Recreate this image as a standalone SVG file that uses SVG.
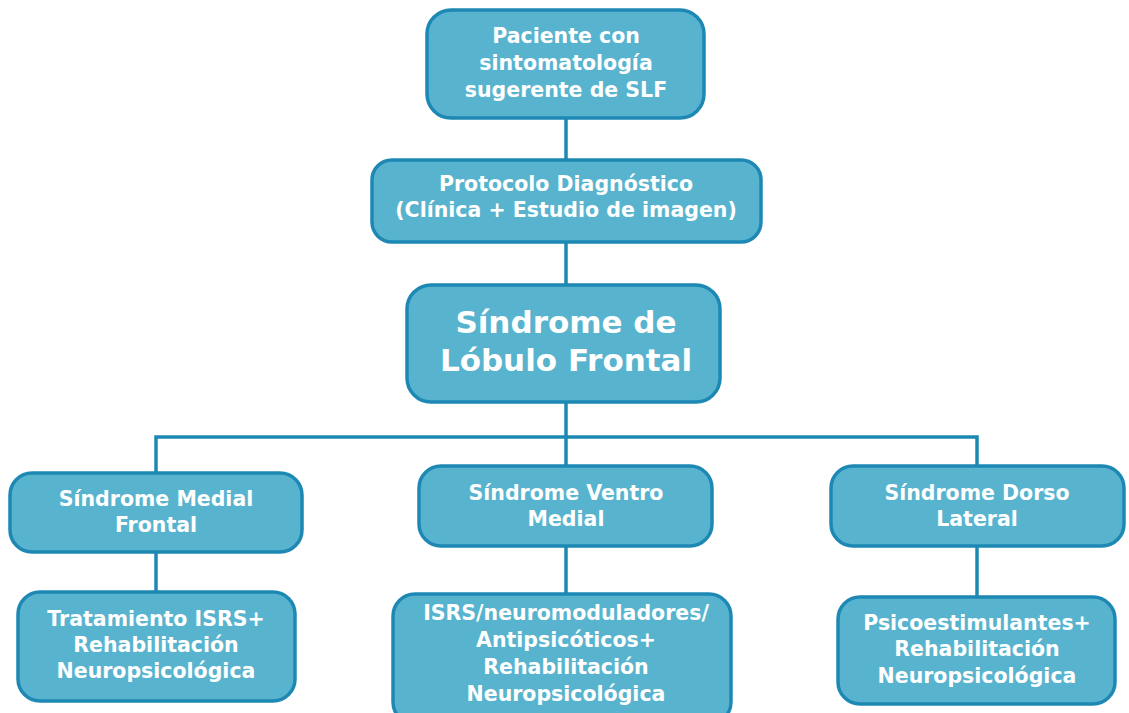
<svg xmlns="http://www.w3.org/2000/svg" width="1129" height="713" viewBox="0 0 1129 713">
<style>
.box{fill:#58b4ce;stroke:#1e88b4;stroke-width:3.5}
.t{font-family:"DejaVu Sans",sans-serif;font-weight:700;font-size:20.5px;fill:#ffffff;text-anchor:middle}
.big{font-size:31px}
.c{stroke:#1e88b4;stroke-width:3.5;fill:none}
</style>
<rect width="1129" height="713" fill="#ffffff"/>
<g id="connectors">
<line class="c" x1="566" y1="118" x2="566" y2="160"/>
<line class="c" x1="566" y1="242" x2="566" y2="285"/>
<line class="c" x1="566" y1="402" x2="566" y2="466"/>
<polyline class="c" points="156,473 156,437 977,437 977,466"/>
<line class="c" x1="156" y1="552" x2="156" y2="591"/>
<line class="c" x1="566" y1="546" x2="566" y2="593"/>
<line class="c" x1="977" y1="546" x2="977" y2="596"/>
</g>
<g id="n1"><rect class="box" x="427" y="10" width="277" height="108" rx="24"/>
<text class="t" x="566" y="43">Paciente con</text><text class="t" x="566" y="70">sintomatología</text><text class="t" x="566" y="97">sugerente de SLF</text></g>
<g id="n2"><rect class="box" x="372" y="160" width="389" height="82" rx="20"/>
<text class="t" x="566" y="191">Protocolo Diagnóstico</text><text class="t" x="566" y="217">(Clínica + Estudio de imagen)</text></g>
<g id="n3"><rect class="box" x="407" y="285" width="313" height="117" rx="24"/>
<text class="t big" x="566" y="333">Síndrome de</text><text class="t big" x="566" y="371">Lóbulo Frontal</text></g>
<g id="n4"><rect class="box" x="10" y="473" width="292" height="79" rx="22"/>
<text class="t" x="156" y="506">Síndrome Medial</text><text class="t" x="156" y="532">Frontal</text></g>
<g id="n5"><rect class="box" x="419" y="466" width="293" height="80" rx="22"/>
<text class="t" x="566" y="500">Síndrome Ventro</text><text class="t" x="566" y="526">Medial</text></g>
<g id="n6"><rect class="box" x="831" y="466" width="293" height="80" rx="22"/>
<text class="t" x="977" y="500">Síndrome Dorso</text><text class="t" x="977" y="526">Lateral</text></g>
<g id="n7"><rect class="box" x="18" y="592" width="277" height="109" rx="22"/>
<text class="t" x="156" y="626">Tratamiento ISRS+</text><text class="t" x="156" y="652">Rehabilitación</text><text class="t" x="156" y="678">Neuropsicológica</text></g>
<g id="n8"><rect class="box" x="393" y="594" width="338" height="130" rx="22"/>
<text class="t" x="566" y="620">ISRS/neuromoduladores/</text><text class="t" x="566" y="647">Antipsicóticos+</text><text class="t" x="566" y="674">Rehabilitación</text><text class="t" x="566" y="701">Neuropsicológica</text></g>
<g id="n9"><rect class="box" x="838" y="597" width="277" height="107" rx="22"/>
<text class="t" x="977" y="630">Psicoestimulantes+</text><text class="t" x="977" y="656">Rehabilitación</text><text class="t" x="977" y="683">Neuropsicológica</text></g>
</svg>
